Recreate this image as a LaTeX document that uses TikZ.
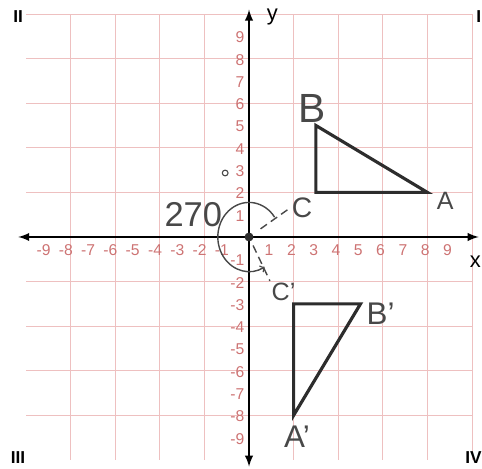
\documentclass[tikz,border=0pt]{standalone}
\usepackage{fontspec}
\setmainfont{Liberation Sans}
\usepackage{xcolor}
\usetikzlibrary{arrows, positioning, calc}

\definecolor{gridpink}{RGB}{238,192,192}
\definecolor{numred}{RGB}{205,115,115}
\definecolor{hand}{RGB}{72,72,72}
\definecolor{tricol}{RGB}{45,45,45}

\begin{document}
\begin{tikzpicture}[x=0.5cm, y=0.5cm, >=latex,
    gridline/.style={draw=gridpink, line width=0.5pt},
    axis/.style={<->, line width=1.4pt, black},
    num/.style={text=numred, font=\fontsize{10}{12}\selectfont, inner sep=0pt},
    handlbl/.style={text=hand, inner sep=1pt},
    handline/.style={draw=hand, line width=0.9pt},
    tri/.style={draw=tricol, line width=2pt, line join=miter},
    quad/.style={font=\bfseries\fontsize{11}{12}\selectfont, inner sep=0pt}
]
    \useasboundingbox (-11.17,-10.4) rectangle (10.45,10.63);

    % GRID
    \draw[gridline] (-10,-10) grid (10,10);

    % AXES
    \coordinate (O) at (0,0);
    \coordinate (xl) at (-10.35,0);
    \coordinate (xr) at (10.3,0);
    \coordinate (yb) at (0,-10.3);
    \coordinate (yt) at (0,10.2);
    \draw[axis] (xl) -- (xr);
    \draw[axis] (yb) -- (yt);
    \node[anchor=east, inner sep=0.5pt] (xlbl) at (10.45,-1.1) {\fontsize{14}{14}\selectfont x};
    \node (ylbl) at (1.05,9.85) {\fontsize{14}{14}\selectfont y};

    % NUMBERS
    \foreach \i in {1,...,9} {
        \node[num] (xp\i) at (\i-0.1,-0.6) {\i};
        \node[num] (xn\i) at (-\i-0.1,-0.6) {\llap{-}\i};
        \node[num, anchor=east] (yp\i) at (-0.2,\i-0.05) {\i};
        \node[num, anchor=east] (yn\i) at (-0.2,-\i-0.05) {-\i};
    }

    % QUADRANTS
    \node[quad] (q1) at (10.3,9.87) {I};
    \node[quad] (q2) at (-10.36,9.87) {II};
    \node[quad] (q3) at (-10.36,-9.9) {III};
    \node[quad, anchor=east] (q4) at (10.45,-9.9) {IV};

    % TRIANGLE ABC
    \coordinate (A) at (8,2);
    \coordinate (B) at (3,5);
    \coordinate (C) at (3,2);
    \draw[tri] (A) -- (B) -- (C) -- cycle;

    % TRIANGLE A'B'C'
    \coordinate (Ap) at (2,-8);
    \coordinate (Bp) at (5,-3);
    \coordinate (Cp) at (2,-3);
    \draw[tri] (Ap) -- (Bp) -- (Cp) -- cycle;

    % HANDWRITTEN LABELS
    \node[handlbl, font=\fontsize{26}{26}\selectfont] (lblB) at (2.83,5.78) {B};
    \node[handlbl, font=\fontsize{16}{16}\selectfont] (lblA) at (8.8,1.6) {A};
    \node[handlbl, font=\fontsize{18}{18}\selectfont] (lblC) at (2.38,1.3) {C};
    \node[handlbl, font=\fontsize{20}{20}\selectfont] (lblBp) at (5.9,-3.45) {B'};
    \node[handlbl, font=\fontsize{20}{20}\selectfont] (lblAp) at (2.15,-8.95) {A'};
    \node[handlbl, font=\fontsize{16}{16}\selectfont] (lblCp) at (1.55,-2.45) {C'};
    \node[handlbl, font=\fontsize{22}{22}\selectfont] (rot) at (-2.5,1.0) {270};
    \node[circle, draw=hand, line width=0.7pt, inner sep=1.3pt] (deg) at (-1.07,2.87) {};

    % ROTATION
    \draw[handline, dash pattern=on 5pt off 3pt, shorten <=9pt] (O) -- (lblC.west);
    \draw[handline, dash pattern=on 5pt off 3pt, shorten <=6pt] (O) -- (lblCp.north west);
    \draw[handline, ->, >=to] ($(O)+(35:1.4 and 1.55)$) arc[start angle=35, end angle=300, x radius=1.4, y radius=1.55];
    \fill[tricol] (O) circle (0.2);
\end{tikzpicture}
\end{document}
